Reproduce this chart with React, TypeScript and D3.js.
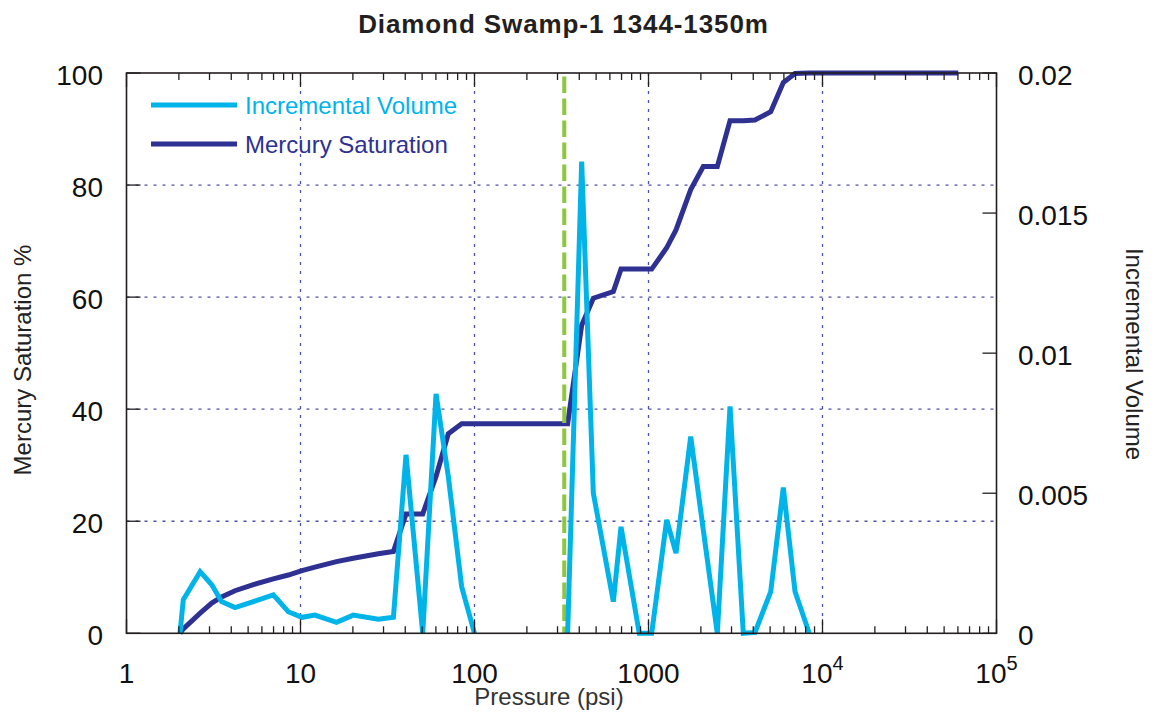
import React from 'react';
import * as d3 from 'd3';

const title = 'Diamond Swamp-1 1344-1350m';

// Incremental volume series (null = gap in the curve)
const incPressure = [2.03, 2.12, 2.65, 3.09, 3.52, 4.2, 5.36, 6.98, 8.51, 10.2, 12.1, 16.1, 20.1, 28, 34.2, 40.4, 50.4, 60.1, 70.7, 84.4, 100, 200, 343, 413, 482, 628, 695, 885, 1043, 1272, 1439, 1748, 2065, 2486, 2941, 3506, 4093, 5040, 5953, 6950, 8395];
const incVolume = [0, 0.0012, 0.0022, 0.00173, 0.00113, 0.00092, 0.00113, 0.00137, 0.00077, 0.00057, 0.00065, 0.00039, 0.00065, 0.0005, 0.00057, 0.00637, 0, 0.00855, 0.0056, 0.00166, 0, null, 0, 0.01684, 0.005, 0.00113, 0.0038, 0, 0, 0.00405, 0.00286, 0.00702, 0.00369, 0, 0.0081, 0, 0.00003, 0.00149, 0.0052, 0.00149, 0];

// Mercury saturation series
const satPressure = [2.03, 2.12, 2.65, 3.09, 3.52, 4.2, 5.36, 6.98, 8.51, 10.2, 12.1, 16.1, 20.1, 28, 34.2, 40.4, 50.4, 60.1, 70.7, 84.4, 100, 343, 413, 482, 628, 695, 885, 1043, 1272, 1439, 1748, 2065, 2486, 2941, 3506, 4093, 5040, 5953, 6950, 8395, 10000, 20000, 40000, 60300];
const mercurySat = [0, 0.8, 3.6, 5.4, 6.5, 7.6, 8.7, 9.7, 10.4, 11.2, 11.8, 12.8, 13.4, 14.2, 14.6, 21.3, 21.3, 28, 35.6, 37.4, 37.4, 37.4, 55, 59.8, 61, 65, 65, 65, 68.8, 72, 79.2, 83.3, 83.3, 91.5, 91.5, 91.6, 93.1, 98.3, 99.9, 100, 100, 100, 100, 100];

const thresholdPressure = 328;

const xTicks = [1, 10, 100, 1000, 10000, 100000];
const leftTicks = [0, 20, 40, 60, 80, 100];
const rightTicks = [0, 0.005, 0.01, 0.015, 0.02];
const rightTickLabels = ['0', '0.005', '0.01', '0.015', '0.02'];
const legendLabels = ['Incremental Volume', 'Mercury Saturation'];

const W = 1161;
const H = 715;
const L = 126.5, R = 996.5, T = 73, B = 633.3;
const FONT = '"Liberation Sans", Arial, Helvetica, sans-serif';
const C_LIGHT = '#00b4ea';
const C_DARK = '#2e3192';
const C_GREEN = '#8dc63f';
const C_GRID = '#4d51a3';

export default function App() {
  const x = d3.scaleLog().domain([1, 1e5]).range([L, R]);
  const yL = d3.scaleLinear().domain([0, 100]).range([B, T]);
  const yR = d3.scaleLinear().domain([0, 0.02]).range([B, T]);

  const incData = incPressure.map((p, i) => ({ p, v: incVolume[i] }));
  const satData = satPressure.map((p, i) => ({ p, v: mercurySat[i] }));

  const incLine = d3
    .line<{ p: number; v: number | null }>()
    .defined((d) => d.v !== null)
    .x((d) => x(d.p))
    .y((d) => yR(d.v as number));
  const satLine = d3
    .line<{ p: number; v: number }>()
    .x((d) => x(d.p))
    .y((d) => yL(d.v));

  const minorTicks: number[] = [];
  for (let e = 0; e < 5; e++) {
    for (let k = 2; k <= 9; k++) minorTicks.push(k * Math.pow(10, e));
  }

  return (
    <svg
      width={W}
      height={H}
      style={{ position: 'absolute', left: 0, top: 0, background: '#fff' }}
      fontFamily={FONT}
    >
      <rect x={0} y={0} width={W} height={H} fill="#fff" />
      {/* title */}
      <text x={563.5} y={32.5} textAnchor="middle" fontSize={26} fontWeight="bold" fill="#231f20" letterSpacing={0.9}>
        {title}
      </text>

      {/* gridlines */}
      <g stroke={C_GRID} strokeWidth={1.3} strokeDasharray="3,6">
        {xTicks.slice(1, -1).map((t) => (
          <line key={'gx' + t} x1={x(t)} x2={x(t)} y1={T} y2={B} />
        ))}
        {leftTicks.slice(1, -1).map((t) => (
          <line key={'gy' + t} x1={L} x2={R} y1={yL(t)} y2={yL(t)} />
        ))}
      </g>

      {/* mercury saturation */}
      <path d={satLine(satData) || ''} fill="none" stroke={C_DARK} strokeWidth={5} />

      {/* threshold line */}
      <line
        x1={x(thresholdPressure)}
        x2={x(thresholdPressure)}
        y1={T + 3.5}
        y2={B}
        stroke={C_GREEN}
        strokeWidth={4}
        strokeDasharray="16.5,5.5"
      />

      {/* incremental volume */}
      <path d={incLine(incData) || ''} fill="none" stroke={C_LIGHT} strokeWidth={5} />

      {/* frame */}
      <rect x={L} y={T} width={R - L} height={B - T} fill="none" stroke="#231f20" strokeWidth={1.6} />

      {/* ticks */}
      <g stroke="#231f20" strokeWidth={1.3}>
        {xTicks.map((t) => (
          <g key={'xt' + t}>
            <line x1={x(t)} x2={x(t)} y1={B} y2={B - 14} />
            <line x1={x(t)} x2={x(t)} y1={T} y2={T + 14} />
          </g>
        ))}
        {minorTicks.map((t) => (
          <g key={'xm' + t}>
            <line x1={x(t)} x2={x(t)} y1={B} y2={B - 7} />
            <line x1={x(t)} x2={x(t)} y1={T} y2={T + 7} />
          </g>
        ))}
        {leftTicks.map((t) => (
          <line key={'lt' + t} x1={L} x2={L + 14} y1={yL(t)} y2={yL(t)} />
        ))}
        {rightTicks.map((t) => (
          <line key={'rt' + t} x1={R} x2={R - 14} y1={yR(t)} y2={yR(t)} />
        ))}
      </g>

      {/* x tick labels */}
      <g fontSize={28} fill="#111">
        {xTicks.map((t) => {
          const e = Math.round(Math.log10(t));
          return (
            <text key={'xl' + t} x={x(t)} y={683} textAnchor="middle">
              {e >= 4 ? (
                <>
                  <tspan>10</tspan>
                  <tspan fontSize={20} dy={-13}>{String(e)}</tspan>
                </>
              ) : (
                String(t)
              )}
            </text>
          );
        })}
      </g>

      {/* left tick labels */}
      <g fontSize={28} fill="#111">
        {leftTicks.map((t) => (
          <text key={'ll' + t} x={103} y={yL(t) + 12} textAnchor="end">
            {String(t)}
          </text>
        ))}
      </g>

      {/* right tick labels */}
      <g fontSize={28} fill="#111">
        {rightTicks.map((t, i) => (
          <text key={'rl' + t} x={1018} y={yR(t) + 12} textAnchor="start">
            {rightTickLabels[i]}
          </text>
        ))}
      </g>

      {/* axis labels */}
      <text x={549} y={705} textAnchor="middle" fontSize={24} fill="#333">
        Pressure (psi)
      </text>
      <text transform="translate(30.7,360) rotate(-90)" textAnchor="middle" fontSize={24} fill="#222">
        Mercury Saturation %
      </text>
      <text transform="translate(1126,354) rotate(90)" textAnchor="middle" fontSize={24} fill="#222">
        Incremental Volume
      </text>

      {/* legend */}
      <g>
        <line x1={151} x2={237} y1={105} y2={105} stroke={C_LIGHT} strokeWidth={5} />
        <text x={245} y={114} fontSize={24} fill={C_LIGHT}>{legendLabels[0]}</text>
        <line x1={151} x2={237} y1={144} y2={144} stroke={C_DARK} strokeWidth={5} />
        <text x={245} y={153.3} fontSize={24} fill={C_DARK}>{legendLabels[1]}</text>
      </g>
    </svg>
  );
}
